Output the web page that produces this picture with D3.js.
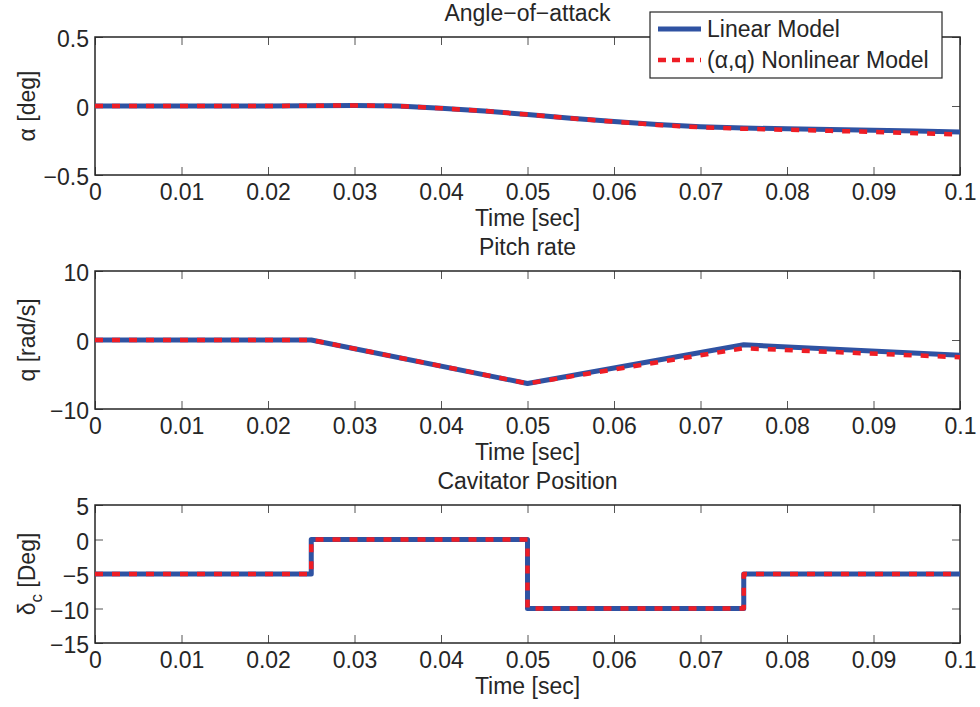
<!DOCTYPE html>
<html>
<head>
<meta charset="utf-8">
<script src="https://cdn.jsdelivr.net/npm/d3@7"></script>
<style>
  html, body { margin: 0; padding: 0; background: #fff; }
  svg { display: block; font-family: "Liberation Sans", Arial, Helvetica, sans-serif; }
</style>
</head>
<body>
<svg id="chart" width="980" height="707"></svg>
<script>
// Time base shared by all three panels
const timeTicks = [0, 0.01, 0.02, 0.03, 0.04, 0.05, 0.06, 0.07, 0.08, 0.09, 0.1];
const timeTickLabels = ["0", "0.01", "0.02", "0.03", "0.04", "0.05", "0.06", "0.07", "0.08", "0.09", "0.1"];

// Angle of attack [deg]
const alphaTime = [0, 0.005, 0.01, 0.015, 0.02, 0.025, 0.03, 0.035, 0.04, 0.045, 0.05,
                   0.055, 0.06, 0.065, 0.07, 0.075, 0.08, 0.085, 0.09, 0.095, 0.1];
const alphaLinear = [0, 0, 0, 0, 0, 0.002, 0.004, 0.0, -0.016, -0.036, -0.062,
                     -0.088, -0.112, -0.134, -0.150, -0.160, -0.165, -0.170, -0.176, -0.182, -0.188];
const alphaNonlinear = [0, 0, 0, 0, 0, 0.002, 0.004, 0.0, -0.016, -0.036, -0.062,
                        -0.089, -0.114, -0.137, -0.154, -0.165, -0.172, -0.180, -0.188, -0.197, -0.207];

// Pitch rate [rad/s]
const qTime = [0, 0.025, 0.05, 0.075, 0.1];
const qLinear = [0, 0, -6.3, -0.7, -2.2];
const qNonlinear = [0, 0, -6.3, -1.2, -2.5];

// Cavitator deflection [deg], held between samples
const deltaTime = [0, 0.025, 0.05, 0.075, 0.1];
const deltaLinear = [-5, 0, -10, -5, -5];
const deltaNonlinear = [-5, 0, -10, -5, -5];

// Y-axis ticks per panel
const alphaTicks = [-0.5, 0, 0.5];
const alphaTickLabels = ["\u22120.5", "0", "0.5"];
const qTicks = [-10, 0, 10];
const qTickLabels = ["\u221210", "0", "10"];
const deltaTicks = [-15, -10, -5, 0, 5];
const deltaTickLabels = ["\u221215", "\u221210", "\u22125", "0", "5"];

const legendLabels = ["Linear Model", "(\u03b1,q) Nonlinear Model"];

const BLUE = "#2f52a2";
const RED = "#ee1d25";
const INK = "#262626";
const FONT = 23;

const svg = d3.select("#chart");
const x = d3.scaleLinear().domain([0, 0.1]).range([95, 960]);

function panel(cfg) {
  const y = d3.scaleLinear().domain(cfg.domain).range([cfg.bottom, cfg.top]);
  const g = svg.append("g");

  // inward ticks on all four sides
  const tickStyle = sel => {
    sel.select(".domain").remove();
    sel.selectAll(".tick line").attr("stroke", "#555").attr("stroke-width", 1);
  };
  g.append("g").attr("transform", `translate(0,${cfg.bottom})`)
    .call(d3.axisBottom(x).tickValues(timeTicks).tickSize(-8).tickPadding(0)
      .tickFormat((d, i) => timeTickLabels[i]))
    .call(tickStyle)
    .call(s => s.selectAll(".tick text").attr("y", 25).attr("dy", 0)
      .attr("font-size", FONT).attr("fill", INK).attr("font-family", null));
  g.append("g").attr("transform", `translate(0,${cfg.top})`)
    .call(d3.axisTop(x).tickValues(timeTicks).tickSize(-8).tickFormat(""))
    .call(tickStyle);
  g.append("g").attr("transform", `translate(${x.range()[0]},0)`)
    .call(d3.axisLeft(y).tickValues(cfg.ticks).tickSize(-8)
      .tickFormat((d, i) => cfg.tickLabels[i]))
    .call(tickStyle)
    .call(s => s.selectAll(".tick text").attr("x", -6).attr("dy", "0.42em")
      .attr("font-size", FONT).attr("fill", INK).attr("font-family", null));
  g.append("g").attr("transform", `translate(${x.range()[1]},0)`)
    .call(d3.axisRight(y).tickValues(cfg.ticks).tickSize(-8).tickFormat(""))
    .call(tickStyle);

  // axes box
  g.append("rect")
    .attr("x", x.range()[0]).attr("y", cfg.top)
    .attr("width", x.range()[1] - x.range()[0]).attr("height", cfg.bottom - cfg.top)
    .attr("fill", "none").attr("stroke", INK).attr("stroke-width", 1.5);

  // series
  const line = d3.line().x(d => x(d[0])).y(d => y(d[1])).curve(cfg.curve || d3.curveLinear);
  g.append("path")
    .datum(cfg.time.map((t, i) => [t, cfg.linear[i]]))
    .attr("d", line).attr("fill", "none")
    .attr("stroke", BLUE).attr("stroke-width", 5).attr("stroke-linejoin", "round");
  g.append("path")
    .datum(cfg.time.map((t, i) => [t, cfg.nonlinear[i]]))
    .attr("d", line).attr("fill", "none")
    .attr("stroke", RED).attr("stroke-width", 4.5).attr("stroke-dasharray", "8,9")
    .attr("stroke-linejoin", "round");

  // title and axis labels
  g.append("text").attr("x", (x.range()[0] + x.range()[1]) / 2).attr("y", cfg.top - 16)
    .attr("text-anchor", "middle").attr("font-size", FONT).attr("fill", INK).text(cfg.title);
  g.append("text").attr("x", (x.range()[0] + x.range()[1]) / 2).attr("y", cfg.bottom + 51)
    .attr("text-anchor", "middle").attr("font-size", FONT).attr("fill", INK).text("Time [sec]");
  const yl = g.append("text")
    .attr("transform", `translate(${cfg.ylabelX},${(cfg.top + cfg.bottom) / 2}) rotate(-90)`)
    .attr("text-anchor", "middle").attr("font-size", FONT).attr("fill", INK);
  cfg.ylabel(yl);
  return g;
}

panel({
  top: 37, bottom: 175, domain: [-0.5, 0.5],
  ticks: alphaTicks, tickLabels: alphaTickLabels,
  time: alphaTime, linear: alphaLinear, nonlinear: alphaNonlinear,
  title: "Angle\u2212of\u2212attack", ylabelX: 35,
  ylabel: t => t.text("\u03b1 [deg]")
});

panel({
  top: 271, bottom: 409, domain: [-10, 10],
  ticks: qTicks, tickLabels: qTickLabels,
  time: qTime, linear: qLinear, nonlinear: qNonlinear,
  title: "Pitch rate", ylabelX: 35,
  ylabel: t => t.text("q [rad/s]")
});

panel({
  top: 505, bottom: 643, domain: [-15, 5],
  ticks: deltaTicks, tickLabels: deltaTickLabels,
  time: deltaTime, linear: deltaLinear, nonlinear: deltaNonlinear,
  curve: d3.curveStepAfter,
  title: "Cavitator Position", ylabelX: 35,
  ylabel: t => {
    t.append("tspan").text("\u03b4");
    t.append("tspan").attr("font-size", 17).attr("dy", 7).text("c");
    t.append("tspan").attr("dy", -7).text(" [Deg]");
  }
});

// legend
const lg = svg.append("g");
lg.append("rect").attr("x", 650).attr("y", 12).attr("width", 292).attr("height", 66)
  .attr("fill", "#fff").attr("stroke", INK).attr("stroke-width", 1.2);
const legendStyles = [
  { color: BLUE, width: 5, dash: null },
  { color: RED, width: 4.5, dash: "8,6" }
];
legendLabels.forEach((label, i) => {
  const cy = 29 + i * 31;
  const st = legendStyles[i];
  lg.append("line").attr("x1", 658).attr("x2", 701).attr("y1", cy).attr("y2", cy)
    .attr("stroke", st.color).attr("stroke-width", st.width)
    .attr("stroke-dasharray", st.dash);
  lg.append("text").attr("x", 707).attr("y", cy + 8).attr("font-size", FONT)
    .attr("fill", INK).text(label);
});
</script>
</body>
</html>
